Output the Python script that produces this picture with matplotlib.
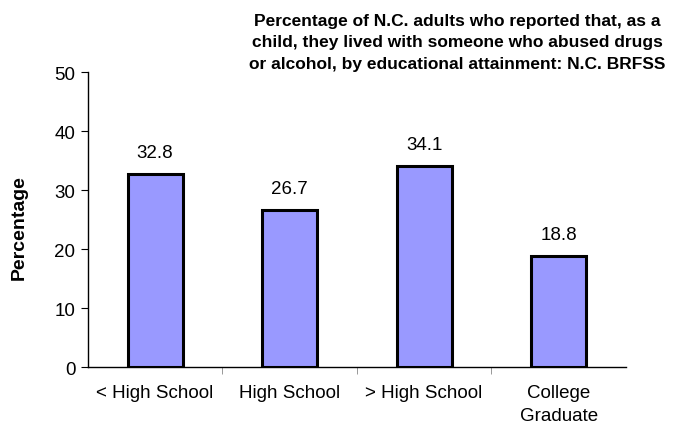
import matplotlib
matplotlib.use("Agg")
import matplotlib.pyplot as plt
from matplotlib.ticker import FixedLocator, NullFormatter

plt.rcParams['font.family'] = ['Liberation Sans', 'DejaVu Sans']

categories = ["< High School", "High School", "> High School", "College\nGraduate"]
values = [32.8, 26.7, 34.1, 18.8]
yticks = [0, 10, 20, 30, 40, 50]
title = ("Percentage of N.C. adults who reported that, as a\n"
         "child, they lived with someone who abused drugs\n"
         "or alcohol, by educational attainment: N.C. BRFSS")

fig = plt.figure(figsize=(6.81, 4.27), dpi=100)
ax = fig.add_axes([0.129, 0.138, 0.79, 0.691])

x = list(range(len(categories)))
bars = ax.bar(x, values, width=0.41, color="#9999FF", edgecolor="black", linewidth=2.2)

# value labels above each bar
for xi, v in zip(x, values):
    ax.text(xi, v + 3.6, f"{v:.1f}", ha="center", va="center", fontsize=13.5)

ax.set_xlim(-0.5, len(categories) - 0.5)
ax.set_ylim(0, 50)
ax.set_yticks(yticks)
ax.tick_params(axis="y", labelsize=13.5, length=5, direction="out", pad=4)

ax.set_xticks(x)
ax.set_xticklabels(categories, fontsize=13.5, linespacing=1.5)
ax.tick_params(axis="x", which="major", length=0, pad=12)
ax.xaxis.set_minor_locator(FixedLocator([0.5, 1.5, 2.5]))
ax.xaxis.set_minor_formatter(NullFormatter())
ax.tick_params(axis="x", which="minor", length=5, direction="out", color="#888888")

ax.spines["top"].set_visible(False)
ax.spines["right"].set_visible(False)
ax.spines["left"].set_linewidth(1.0)
ax.spines["bottom"].set_linewidth(1.0)

ax.set_ylabel("Percentage", fontsize=14, fontweight="bold")
ax.yaxis.set_label_coords(-0.112, 0.475)

fig.text(0.672, 0.968, title, ha="center", va="top", fontsize=12.5,
         fontweight="bold", linespacing=1.55)

fig.savefig("out.png", dpi=100)
